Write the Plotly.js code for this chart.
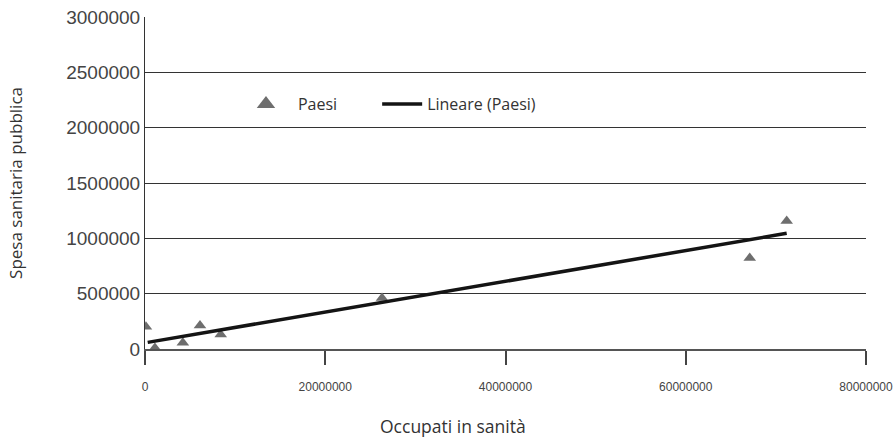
<!DOCTYPE html>
<html>
<head>
<meta charset="utf-8">
<script src="https://cdn.plot.ly/plotly-3.0.1.min.js"></script>
<style>html,body{margin:0;padding:0;background:#fff;}#chart{width:895px;height:437px;}</style>
</head>
<body>
<div id="chart"></div>
<script>
// Data
const occupati = [100000, 1100000, 4200000, 6100000, 8400000, 26300000, 67100000, 71200000];
const spesa    = [200000, 10000, 57000, 213000, 130000, 461000, 822000, 1157000];
// Linear trend line endpoints as drawn in the reference
const trendX = [300000, 71200000];
const trendY = [60000, 1045000];
const xTicks = [0, 20000000, 40000000, 60000000, 80000000];
const yTicks = [0, 500000, 1000000, 1500000, 2000000, 2500000, 3000000];

const traces = [
  {
    x: occupati, y: spesa, type: 'scatter', mode: 'markers', name: 'Paesi',
    marker: {symbol: 'triangle-up', size: 11, color: '#6e6e6e'}, showlegend: false
  },
  {
    // legend entry for the markers (larger symbol, as in the reference legend)
    x: [null], y: [null], type: 'scatter', mode: 'markers', name: 'Paesi',
    marker: {symbol: 'triangle-up', size: 24, color: '#6e6e6e'}, showlegend: true, legend: 'legend'
  },
  {
    x: trendX, y: trendY, type: 'scatter', mode: 'lines', name: 'Lineare (Paesi)',
    line: {color: '#141414', width: 3.5}, legend: 'legend2'
  }
];

const legendFont = {family: 'Open Sans', size: 16, color: '#333'};
const layout = {
  width: 895, height: 437,
  margin: {l: 145, r: 29, t: 17, b: 88},
  paper_bgcolor: '#fff', plot_bgcolor: '#fff',
  showlegend: true,
  legend: {
    orientation: 'h', x: 0.1234, y: 0.738, xanchor: 'left', yanchor: 'middle',
    font: legendFont, bgcolor: 'rgba(0,0,0,0)', itemwidth: 54
  },
  legend2: {
    orientation: 'h', x: 0.322, y: 0.738, xanchor: 'left', yanchor: 'middle',
    font: legendFont, bgcolor: 'rgba(0,0,0,0)', itemwidth: 40
  },
  xaxis: {
    range: [0, 80000000], tickvals: xTicks, ticktext: xTicks.map(String),
    showgrid: false, zeroline: false, showline: true, linecolor: '#555', linewidth: 2,
    ticks: 'outside', ticklen: 14, tickcolor: '#444', tickwidth: 2,
    tickfont: {family: 'Liberation Sans', size: 12, color: '#444'},
    ticklabelstandoff: 12, ticklabeloverflow: 'allow'
  },
  yaxis: {
    range: [0, 3000000], tickvals: yTicks, ticktext: yTicks.map(String),
    showgrid: true, gridcolor: '#333', gridwidth: 1, zeroline: false,
    showline: true, linecolor: '#333', linewidth: 1,
    ticks: '', tickfont: {family: 'Liberation Sans', size: 19, color: '#444'},
    title: {text: 'Spesa sanitaria pubblica', font: {family: 'Open Sans', size: 17, color: '#333'}, standoff: 39}
  },
  annotations: [{
    text: 'Occupati in sanità', xref: 'paper', yref: 'paper', x: 0.427, y: -0.232,
    xanchor: 'center', yanchor: 'middle', showarrow: false,
    font: {family: 'Open Sans', size: 17.5, color: '#333'}
  }]
};

Plotly.newPlot('chart', traces, layout, {displayModeBar: false, responsive: false});
</script>
</body>
</html>
